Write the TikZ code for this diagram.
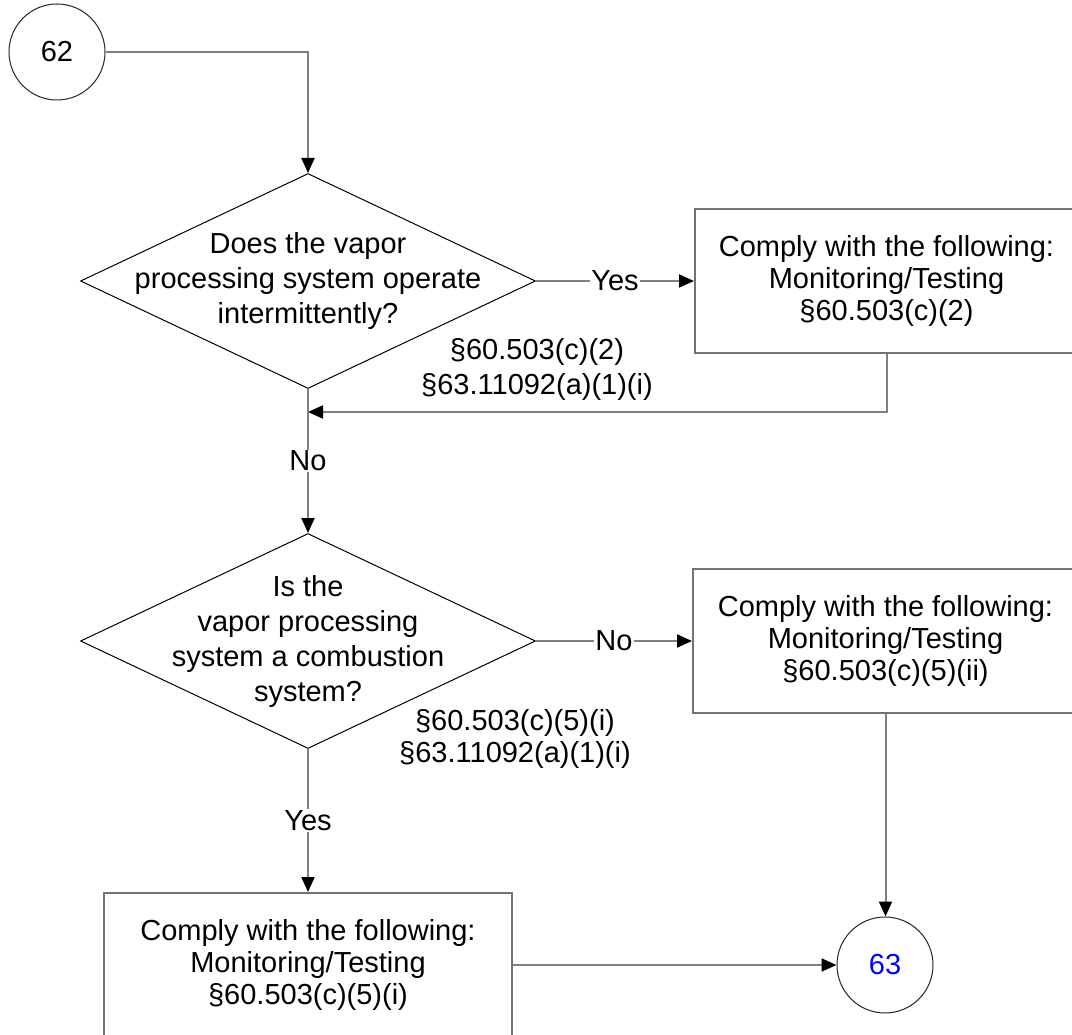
\documentclass[tikz,border=0pt]{standalone}
\usepackage{fontspec}
\setmainfont{Liberation Sans}
\usetikzlibrary{arrows.meta,shapes.geometric}
\begin{document}
\begin{tikzpicture}[x=1pt,y=-1pt,
  every node/.style={font=\fontsize{29}{35}\selectfont},
  conn/.style={draw=black!50, line width=2pt},
  arr/.style={conn, -{Triangle[length=15pt,width=13pt,color=black]}},
  decision/.style={diamond, draw=black, line width=1pt, minimum width=455pt, minimum height=215pt, inner sep=0pt},
  stepbox/.style={rectangle, draw=black!55, line width=2pt, minimum height=144pt, align=center, inner sep=0pt, font=\fontsize{29}{32}\selectfont},
  conncircle/.style={circle, draw=black!85, line width=1pt, minimum size=96pt, inner sep=0pt},
  linelabel/.style={fill=white, inner sep=1pt},
  reftext/.style={align=center, inner sep=0pt}
]
\useasboundingbox (0,0) rectangle (1072,1035);
\clip (0,0) rectangle (1072,1035);

% nodes
\node[conncircle] (c62) at (57,52) {62};
\node[decision] (d1) at (308,281) {};
\node[reftext] (t1) at (d1.center) {Does the vapor\\processing system operate\\intermittently?};
\node[stepbox, minimum width=383pt] (b1) at (886.5,281) {Comply with the following:\\Monitoring/Testing\\\S60.503(c)(2)};
\node[reftext] (r1) at (537,369) {\S60.503(c)(2)\\\S63.11092(a)(1)(i)};

\node[decision] (d2) at (308,641) {};
\node[reftext] (t2) at (d2.center) {Is the\\vapor processing\\system a combustion\\system?};
\node[stepbox, minimum width=385pt] (b2) at (885.5,641) {Comply with the following:\\Monitoring/Testing\\\S60.503(c)(5)(ii)};
\node[reftext, font=\fontsize{29}{32}\selectfont] (r2) at (515,739) {\S60.503(c)(5)(i)\\\S63.11092(a)(1)(i)};

\node[stepbox, minimum width=408pt] (b3) at (308,965) {Comply with the following:\\Monitoring/Testing\\\S60.503(c)(5)(i)};
\node[conncircle, text=blue] (c63) at (885,965) {63};

% connectors
\coordinate (j1) at (308,412);
\draw[arr] (c62.east) -| (d1.north);
\draw[arr] (d1.east) -- node[linelabel]{Yes} (b1.west);
\draw[arr] (b1.south) |- (j1);
\draw[arr] (d1.south) -- node[linelabel]{No} (d2.north);
\draw[arr] (d2.east) -- node[linelabel]{No} (b2.west);
\draw[arr] (b2.south) -- (b2.south |- c63.north);
\draw[arr] (d2.south) -- node[linelabel]{Yes} (b3.north);
\draw[arr] (b3.east) -- (c63.west);
\end{tikzpicture}
\end{document}
